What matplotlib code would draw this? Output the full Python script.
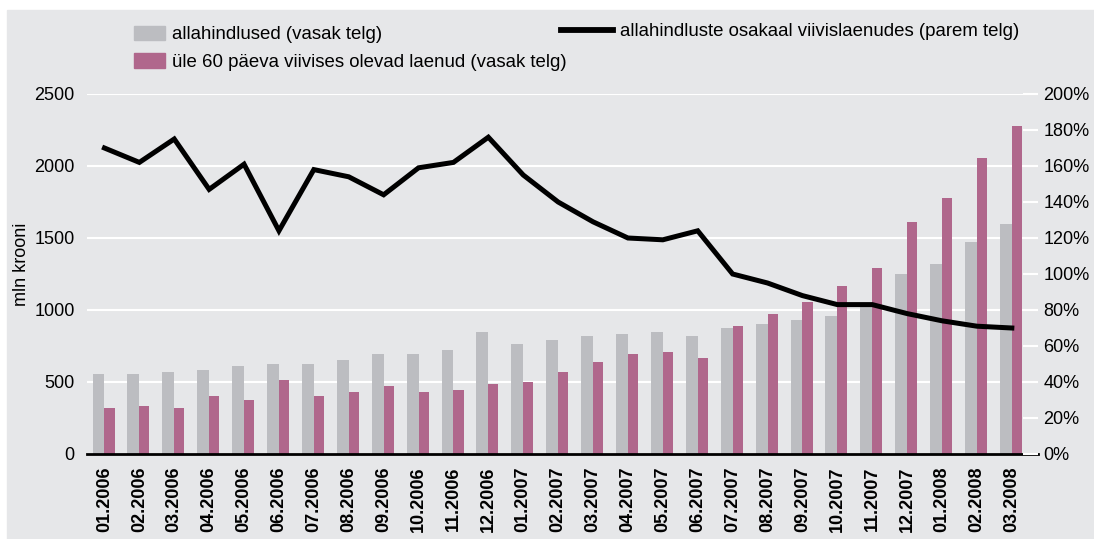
import numpy as np
import matplotlib
matplotlib.use('Agg')
import matplotlib.pyplot as plt
from matplotlib.patches import Rectangle, Patch
from matplotlib.lines import Line2D

plt.rcParams['font.family'] = ['Liberation Sans', 'DejaVu Sans']

# months 01.2006 - 03.2008
months = ['01.2006', '02.2006', '03.2006', '04.2006', '05.2006', '06.2006',
          '07.2006', '08.2006', '09.2006', '10.2006', '11.2006', '12.2006',
          '01.2007', '02.2007', '03.2007', '04.2007', '05.2007', '06.2007',
          '07.2007', '08.2007', '09.2007', '10.2007', '11.2007', '12.2007',
          '01.2008', '02.2008', '03.2008']

# allahindlused, mln krooni (left axis)
allahindlused = [555, 555, 569, 583, 611, 625, 625, 653, 694, 694, 722, 847,
                 764, 792, 819, 833, 847, 819, 875, 903, 931, 958, 1045, 1250,
                 1319, 1472, 1597]

# loans overdue more than 60 days, mln krooni (left axis)
viivises = [319, 333, 319, 403, 375, 514, 403, 431, 472, 431, 444, 486,
            500, 569, 639, 694, 708, 667, 889, 972, 1056, 1167, 1292, 1611,
            1778, 2056, 2278]

# share of provisions in overdue loans, % (right axis)
osakaal = [170, 162, 175, 147, 161, 124, 158, 154, 144, 159, 162, 176,
           155, 140, 129, 120, 119, 124, 100, 95, 88, 83, 83, 78,
           74, 71, 70]

bg = '#e6e7e9'
gray = '#bcbdc1'
pink = '#b0678c'

fig = plt.figure(figsize=(10.94, 5.39), dpi=100)
fig.patches.append(Rectangle((7 / 1094, 0), 1, 1 - 10 / 539, transform=fig.transFigure,
                             color=bg, zorder=-1))

ax = fig.add_axes([87 / 1094, 85 / 539, 951 / 1094, 360 / 539])
ax.set_facecolor('none')

x = np.arange(len(months))
gw, pw = 0.34, 0.29
ax.bar(x - gw / 2, allahindlused, width=gw, color=gray, zorder=2)
ax.bar(x + pw / 2, viivises, width=pw, color=pink, zorder=2)

ax.set_xlim(-0.5, len(months) - 0.25)
ax.set_ylim(0, 2500)
ax.set_yticks(np.arange(0, 2501, 500))
ax.yaxis.grid(True, color='white', lw=1.5)
ax.set_axisbelow(True)
for s in ['top', 'left', 'right']:
    ax.spines[s].set_visible(False)
ax.spines['bottom'].set_color('black')
ax.spines['bottom'].set_linewidth(2)
ax.spines['bottom'].set_zorder(3)

ax.set_xticks(x)
ax.set_xticklabels(months, rotation=90, fontweight='bold', fontsize=13)
ax.tick_params(axis='x', length=0, pad=9)
ax.tick_params(axis='y', length=0, pad=9, labelsize=13)
ax.set_ylabel('mln krooni', fontsize=13)
ax.yaxis.set_label_coords(-0.060, 0.526)

ax2 = ax.twinx()
ax2.plot(x, osakaal, color='black', lw=3.6, solid_joinstyle='miter', zorder=3)
ax2.set_ylim(0, 200)
ax2.set_yticks(np.arange(0, 201, 20))
ax2.set_yticklabels(['%d%%' % v for v in range(0, 201, 20)])
ax2.tick_params(axis='y', direction='in', length=11, width=1.5, color='white',
                pad=4, labelsize=13)
for s in ax2.spines.values():
    s.set_visible(False)

fig.legend(handles=[Patch(color=gray), Patch(color=pink)],
           labels=['allahindlused (vasak telg)',
                   'üle 60 päeva viivises olevad laenud (vasak telg)'],
           loc='upper left', bbox_to_anchor=(134 / 1094, 1 - 25.5 / 539),
           frameon=False, fontsize=13.4, handlelength=1.65, handleheight=0.86,
           handletextpad=0.38, labelspacing=0.53, borderpad=0, borderaxespad=0)
fig.legend(handles=[Line2D([], [], color='black', lw=4.2)],
           labels=['allahindluste osakaal viivislaenudes (parem telg)'],
           loc='upper left', bbox_to_anchor=(561 / 1094, 1 - 23 / 539),
           frameon=False, fontsize=13.4, handlelength=2.8,
           handletextpad=0.38, borderpad=0, borderaxespad=0)

fig.savefig('out.png', dpi=100)
